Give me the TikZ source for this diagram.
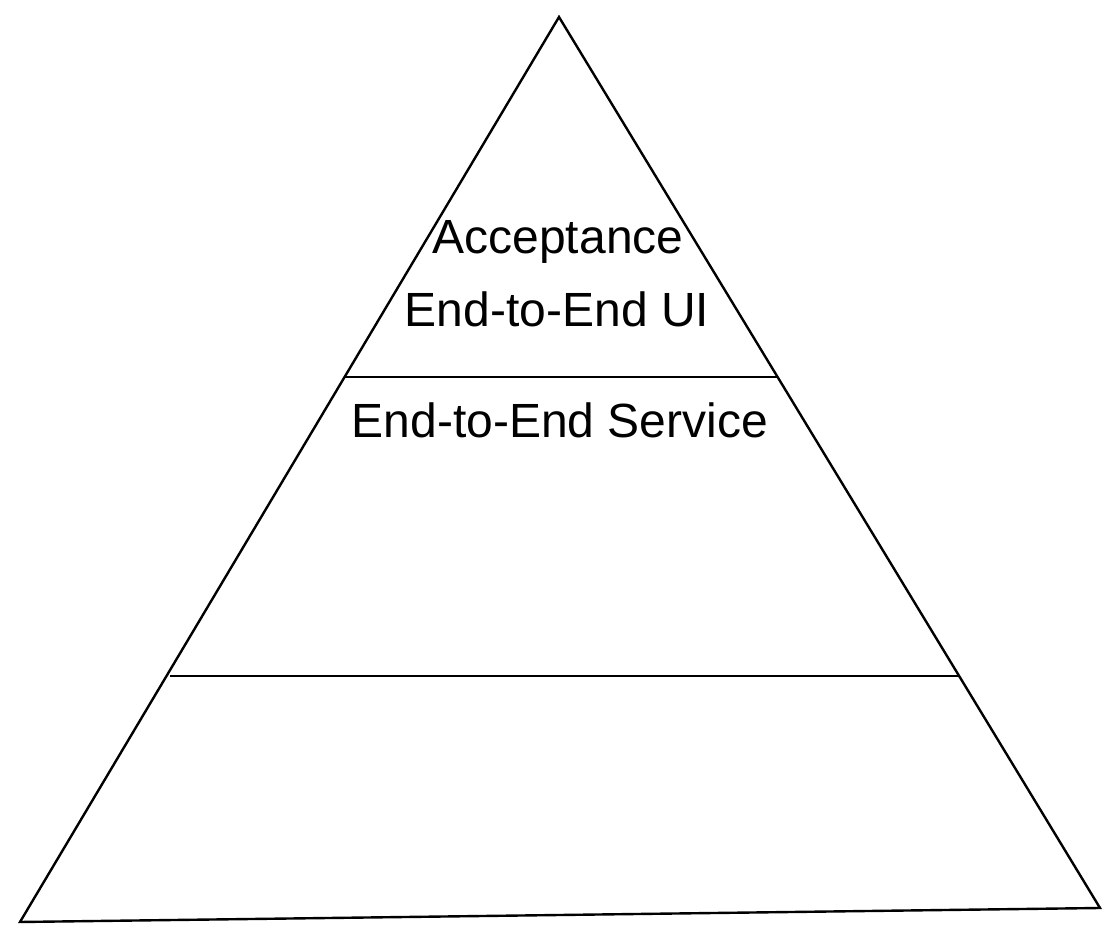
\documentclass[tikz,border=0pt]{standalone}
\usepackage{fontspec}
\setmainfont{Liberation Sans}
\usepackage{tikz}
\usetikzlibrary{positioning,calc}
\tikzstyle{level}=[font=\fontsize{24}{28}\selectfont, inner sep=0pt, anchor=base]

\begin{document}
\begin{tikzpicture}[x=0.5pt, y=-0.5pt, line width=1.2pt]
				\useasboundingbox(0,0)rectangle(1120,940);
				\coordinate(top)at(559,17);
				\coordinate(bl)at(20,922);
				\coordinate(br)at(1100,908);
				\coordinate(ul)at(345,377);
				\coordinate(ur)at(778,377);
				\coordinate(ml)at(170,676);
				\coordinate(mr)at(959,676);
				\node[level](acc)at(558,254){Acceptance};
				\node[level](ui)at(557,327){End-to-End UI};
				\node[level](svc)at(560,438){End-to-End Service};
				\draw(top)--(bl)--(br)--cycle;
				\draw(ul)--(ur);
				\draw(ml)--(mr);
			\end{tikzpicture}
\end{document}
